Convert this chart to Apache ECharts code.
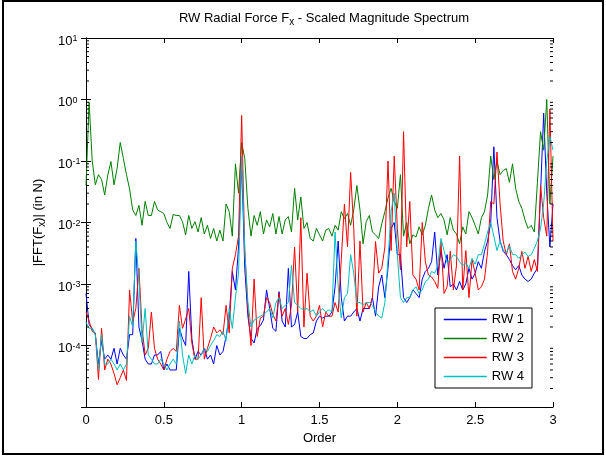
<!DOCTYPE html>
<html>
<head>
<meta charset="utf-8">
<script src="https://cdn.jsdelivr.net/npm/echarts@6/dist/echarts.min.js"></script>
<style>
html,body{margin:0;padding:0;background:#fff;}
#c{position:absolute;left:0;top:0;width:606px;height:457px;}
#frame{position:absolute;left:2px;top:0;width:602px;height:455px;border:2px solid #000;box-sizing:border-box;pointer-events:none;}
</style>
</head>
<body>
<div id="c"></div>
<div id="frame"></div>
<script>
// Order axis (frequency bins)
const orders = [0,0.02,0.04,0.06,0.08,0.1,0.12,0.14,0.16,0.18,0.2,0.22,0.24,0.26,0.28,0.3,0.32,0.34,0.36,0.38,0.4,0.42,0.44,0.46,0.48,0.5,0.52,0.54,0.56,0.58,0.6,
0.62,0.64,0.66,0.68,0.7,0.72,0.74,0.76,0.78,0.8,0.82,0.84,0.86,0.88,0.9,0.92,0.94,0.96,0.98,1,1.02,1.04,1.06,1.08,1.1,1.12,1.14,1.16,1.18,1.2,
1.22,1.24,1.26,1.28,1.3,1.32,1.34,1.36,1.38,1.4,1.42,1.44,1.46,1.48,1.5,1.52,1.54,1.56,1.58,1.6,1.62,1.64,1.66,1.68,1.7,1.72,1.74,1.76,1.78,1.8,
1.82,1.84,1.86,1.88,1.9,1.92,1.94,1.96,1.98,2,2.02,2.04,2.06,2.08,2.1,2.12,2.14,2.16,2.18,2.2,2.22,2.24,2.26,2.28,2.3,2.32,2.34,2.36,2.38,2.4,
2.42,2.44,2.46,2.48,2.5,2.52,2.54,2.56,2.58,2.6,2.62,2.64,2.66,2.68,2.7,2.72,2.74,2.76,2.78,2.8,2.82,2.84,2.86,2.88,2.9,2.92,2.94,2.96,2.98,3];

const rw1 = [0.0007,0.00022,0.00019,0.00015,0.00005,0.00012,0.00006,0.00007,0.00006,0.00009,0.00005,0.00009,0.00007,0.00006,0.00015,0.00015,0.0055,0.0002,0.00012,0.00006,0.00005,0.00005,0.00007,0.00007,0.00008,0.00004,0.00005,0.00004,0.00004,0.00004,0.00019,
0.00013,0.0001,0.0016,0.00013,0.00006,0.00008,0.00007,0.00009,0.00006,0.00007,0.00005,0.0001,0.00007,0.00008,0.00014,0.0003,0.0016,0.0008,0.004,0.1,0.0018,0.0003,0.00013,0.00011,0.00019,0.00021,0.00026,0.0008,0.0004,0.00019,
0.00017,0.00075,0.00025,0.0002,0.0018,0.0002,0.00022,0.00035,0.00014,0.00013,0.00013,0.00015,0.00016,0.00025,0.0003,0.00028,0.0003,0.0003,0.00035,0.0009,0.005,0.0006,0.00025,0.0003,0.0003,0.00035,0.0004,0.00025,0.0004,0.0004,
0.0004,0.0006,0.0003,0.0009,0.0014,0.0006,0.0018,0.008,0.01,0.003,0.003,0.0006,0.0005,0.0006,0.0008,0.0007,0.0006,0.0012,0.0016,0.0018,0.0023,0.007,0.0014,0.0035,0.0018,0.003,0.0009,0.001,0.0008,0.0011,
0.0008,0.001,0.0018,0.0012,0.0015,0.0023,0.0018,0.0034,0.005,0.01,0.17,0.012,0.005,0.0034,0.003,0.0025,0.002,0.0017,0.002,0.0014,0.0012,0.0011,0.0012,0.0015,0.0018,0.03,0.6,0.03,0.004,0.02];

const rw2 = [0.04,0.9,0.10,0.041,0.06,0.05,0.028,0.059,0.098,0.041,0.076,0.2,0.11,0.06,0.035,0.016,0.013,0.019,0.009,0.022,0.013,0.013,0.022,0.016,0.015,0.014,0.010,0.008,0.0135,0.013,0.013,
0.0103,0.0063,0.013,0.008,0.0103,0.007,0.012,0.0065,0.009,0.0055,0.008,0.005,0.0075,0.005,0.02,0.015,0.006,0.09,0.03,0.2,0.11,0.017,0.006,0.013,0.009,0.015,0.0065,0.011,0.0085,0.014,
0.0065,0.0125,0.0065,0.011,0.0125,0.007,0.036,0.011,0.026,0.008,0.010,0.0055,0.005,0.008,0.0063,0.005,0.0075,0.008,0.006,0.009,0.0075,0.015,0.0115,0.014,0.009,0.016,0.04,0.016,0.0045,0.0103,
0.013,0.007,0.0063,0.0055,0.0095,0.015,0.025,0.036,0.022,0.017,0.06,0.006,0.01,0.0045,0.0063,0.0058,0.0085,0.0063,0.009,0.017,0.028,0.016,0.012,0.014,0.011,0.0063,0.012,0.0075,0.0065,0.0045,
0.0085,0.0065,0.015,0.012,0.009,0.0065,0.012,0.015,0.028,0.12,0.05,0.10,0.06,0.07,0.075,0.045,0.09,0.036,0.022,0.017,0.011,0.008,0.009,0.007,0.045,0.3,0.15,1.0,0.02,0.12];

const rw3 = [0.00035,0.00025,0.00017,0.00016,0.000028,0.00019,0.00004,0.00006,0.00005,0.000035,0.000023,0.00003,0.00004,0.000027,0.0008,0.00024,0.0004,0.0018,0.00019,0.00007,0.00009,0.00035,0.00009,0.00006,0.00005,0.00004,0.00006,0.00008,0.00009,0.00008,0.00045,
0.00019,0.00027,0.0004,0.00011,0.00006,0.00006,0.0006,0.00006,0.00009,0.00013,0.0002,0.00016,0.00018,0.00015,0.00045,0.00016,0.0018,0.003,0.006,0.55,0.0035,0.0004,0.0001,0.0012,0.00014,0.00028,0.0003,0.0006,0.0005,0.00032,
0.00025,0.0007,0.0003,0.0004,0.00022,0.00045,0.004,0.00035,0.012,0.0002,0.0015,0.0003,0.00025,0.0003,0.00045,0.0002,0.00035,0.0003,0.0003,0.0005,0.00035,0.0025,0.02,0.004,0.065,0.008,0.0003,0.005,0.00035,0.0005,
0.0004,0.0006,0.0049,0.0015,0.0018,0.004,0.1,0.0035,0.12,0.008,0.0017,0.3,0.004,0.022,0.0014,0.0012,0.0008,0.01,0.0023,0.0014,0.0013,0.0011,0.00085,0.005,0.0007,0.0009,0.0034,0.0008,0.002,0.12,
0.0008,0.0035,0.0006,0.0025,0.0015,0.0008,0.0009,0.0012,0.0034,0.022,0.02,0.14,0.02,0.005,0.003,0.0045,0.0016,0.0012,0.0018,0.0034,0.0018,0.0028,0.0016,0.0025,0.0016,0.04,0.012,0.006,0.7,0.005];

const rw4 = [0.00024,0.00019,0.00019,0.00015,0.00004,0.00015,0.00005,0.00005,0.00006,0.00005,0.00004,0.00005,0.00004,0.00005,0.0003,0.0002,0.005,0.0012,0.00011,0.0004,0.00007,0.00006,0.00005,0.00005,0.00006,0.00005,0.00004,0.00005,0.00006,0.00005,0.00025,
0.00007,0.000035,0.00007,0.00005,0.00007,0.00006,0.00007,0.00009,0.00008,0.0001,0.00012,0.00015,0.00014,0.00017,0.00012,0.0004,0.00019,0.0006,0.0015,0.12,0.0034,0.0005,0.0002,0.00026,0.00028,0.0003,0.00032,0.00035,0.0004,0.00028,
0.0005,0.0006,0.0004,0.00045,0.0005,0.002,0.0005,0.00045,0.0004,0.00038,0.0004,0.00035,0.00038,0.0003,0.00035,0.0004,0.00035,0.00038,0.00035,0.007,0.0009,0.00028,0.0006,0.0007,0.003,0.0015,0.0005,0.0005,0.00045,0.0005,
0.0005,0.00045,0.00035,0.0003,0.00028,0.0005,0.0025,0.015,0.03,0.003,0.0006,0.0005,0.0006,0.0006,0.0008,0.0009,0.0007,0.0008,0.0011,0.0012,0.0016,0.0015,0.002,0.0055,0.0035,0.0022,0.0025,0.003,0.0028,0.0023,
0.002,0.0022,0.0018,0.0026,0.0021,0.003,0.003,0.0045,0.007,0.01,0.006,0.0035,0.005,0.0036,0.0032,0.0042,0.003,0.003,0.0026,0.003,0.0033,0.0028,0.003,0.0038,0.005,0.008,0.02,0.1,0.25,0.15];

const seriesNames = ['RW 1','RW 2','RW 3','RW 4'];
const seriesColors = ['#0000ff','#008000','#ff0000','#00bfbf'];
const xTicks = [0,0.5,1,1.5,2,2.5,3];
const yDecades = [1e-5,1e-4,1e-3,1e-2,1e-1,1,10];

// minor log tick positions (2..9 within each decade)
const minorTicks = [];
for (let d = 0; d < yDecades.length - 1; d++) {
  for (let m = 2; m <= 9; m++) minorTicks.push(yDecades[d] * m);
}

const FONT = 'Liberation Sans, Arial, Helvetica, sans-serif';
const chart = echarts.init(document.getElementById('c'), null, {renderer: 'canvas'});

function pairs(arr) { return orders.map((o, i) => [o, arr[i]]); }
const allData = [rw1, rw2, rw3, rw4];

const series = allData.map((arr, i) => ({
  name: seriesNames[i],
  type: 'line',
  data: pairs(arr),
  symbol: 'none',
  showSymbol: false,
  lineStyle: {width: 1, color: seriesColors[i]},
  itemStyle: {color: seriesColors[i]},
  clip: true,
  z: 3 + i
}));

series.push({
  type: 'custom',
  name: 'minor',
  silent: true,
  xAxisIndex: 0, yAxisIndex: 0,
  data: minorTicks.map(v => [0, v]),
  z: 10,
  renderItem: function (params, api) {
    const v = api.value(1);
    const pl = api.coord([0, v]);
    const pr = api.coord([3, v]);
    return {
      type: 'group',
      children: [
        {type: 'line', shape: {x1: pl[0], y1: pl[1], x2: pl[0] + 3, y2: pl[1]}, style: {stroke: '#000', lineWidth: 1}},
        {type: 'line', shape: {x1: pr[0], y1: pr[1], x2: pr[0] - 3, y2: pr[1]}, style: {stroke: '#000', lineWidth: 1}}
      ]
    };
  }
});

const yLabelFmt = function (v) {
  const e = Math.round(Math.log10(v));
  if (e === -5) return '';
  return '{b|10}{s|' + e + '}';
};

chart.setOption({
  animation: false,
  backgroundColor: '#fff',
  textStyle: {fontFamily: FONT},
  title: {
    text: 'RW Radial Force F{sub|x} - Scaled Magnitude Spectrum',
    left: 319,
    top: 4,
    textAlign: 'center',
    textStyle: {
      fontSize: 13, fontWeight: 'normal', color: '#000', fontFamily: FONT,
      rich: {
        sub: {fontSize: 10, color: '#000', fontFamily: FONT, padding: [8, 0, 0, 0]}
      }
    }
  },
  grid: {left: 86, right: 53, top: 38, bottom: 50, containLabel: false},
  legend: {
    data: seriesNames.map((n, i) => ({
      name: n,
      itemStyle: {opacity: 0},
      lineStyle: {color: seriesColors[i], width: 1.5, opacity: 1}
    })),
    orient: 'vertical',
    left: 435,
    top: 308,
    padding: [5, 8, 5, 8],
    itemWidth: 43,
    itemHeight: 14,
    itemGap: 6,
    backgroundColor: '#fff',
    borderColor: '#000',
    borderWidth: 1,
    borderRadius: 0,
    textStyle: {fontSize: 13, color: '#000', fontFamily: FONT}
  },
  xAxis: [{
    type: 'value', min: 0, max: 3, interval: 0.5,
    axisLine: {show: true, lineStyle: {color: '#000', width: 1}},
    axisTick: {show: true, inside: true, length: 5, lineStyle: {color: '#000'}},
    axisLabel: {color: '#000', fontSize: 13, margin: 7, fontFamily: FONT, formatter: v => String(v)},
    splitLine: {show: false},
    name: 'Order', nameLocation: 'middle', nameGap: 23,
    nameTextStyle: {fontSize: 13, color: '#000', fontFamily: FONT}
  }, {
    type: 'value', position: 'top', min: 0, max: 3, interval: 0.5,
    axisLine: {show: true, lineStyle: {color: '#000', width: 1}},
    axisTick: {show: true, inside: true, length: 5, lineStyle: {color: '#000'}},
    axisLabel: {show: false},
    splitLine: {show: false}
  }],
  yAxis: [{
    type: 'log', logBase: 10, min: 1e-5, max: 10,
    axisLine: {show: true, lineStyle: {color: '#000', width: 1}},
    axisTick: {show: true, inside: true, length: 5, lineStyle: {color: '#000'}},
    axisLabel: {
      color: '#000', fontFamily: FONT, margin: 28, align: 'left',
      padding: [6, 0, 0, 0],
      formatter: yLabelFmt,
      rich: {
        b: {fontSize: 13, lineHeight: 13, verticalAlign: 'bottom', color: '#000', fontFamily: FONT},
        s: {fontSize: 9, lineHeight: 9, verticalAlign: 'top', padding: [0, 0, 7, 0], color: '#000', fontFamily: FONT}
      }
    },
    splitLine: {show: false},
    name: '|FFT(F{sub|x})| (in N)', nameLocation: 'middle', nameGap: 36, nameRotate: 90,
    nameTextStyle: {
      fontSize: 13, color: '#000', fontFamily: FONT,
      rich: {sub: {fontSize: 10, color: '#000', fontFamily: FONT, padding: [8, 0, 0, 0]}}
    }
  }, {
    type: 'log', logBase: 10, min: 1e-5, max: 10, position: 'right',
    axisLine: {show: true, lineStyle: {color: '#000', width: 1}},
    axisTick: {show: true, inside: true, length: 5, lineStyle: {color: '#000'}},
    axisLabel: {show: false},
    splitLine: {show: false}
  }],
  series: series
});
</script>
</body>
</html>
